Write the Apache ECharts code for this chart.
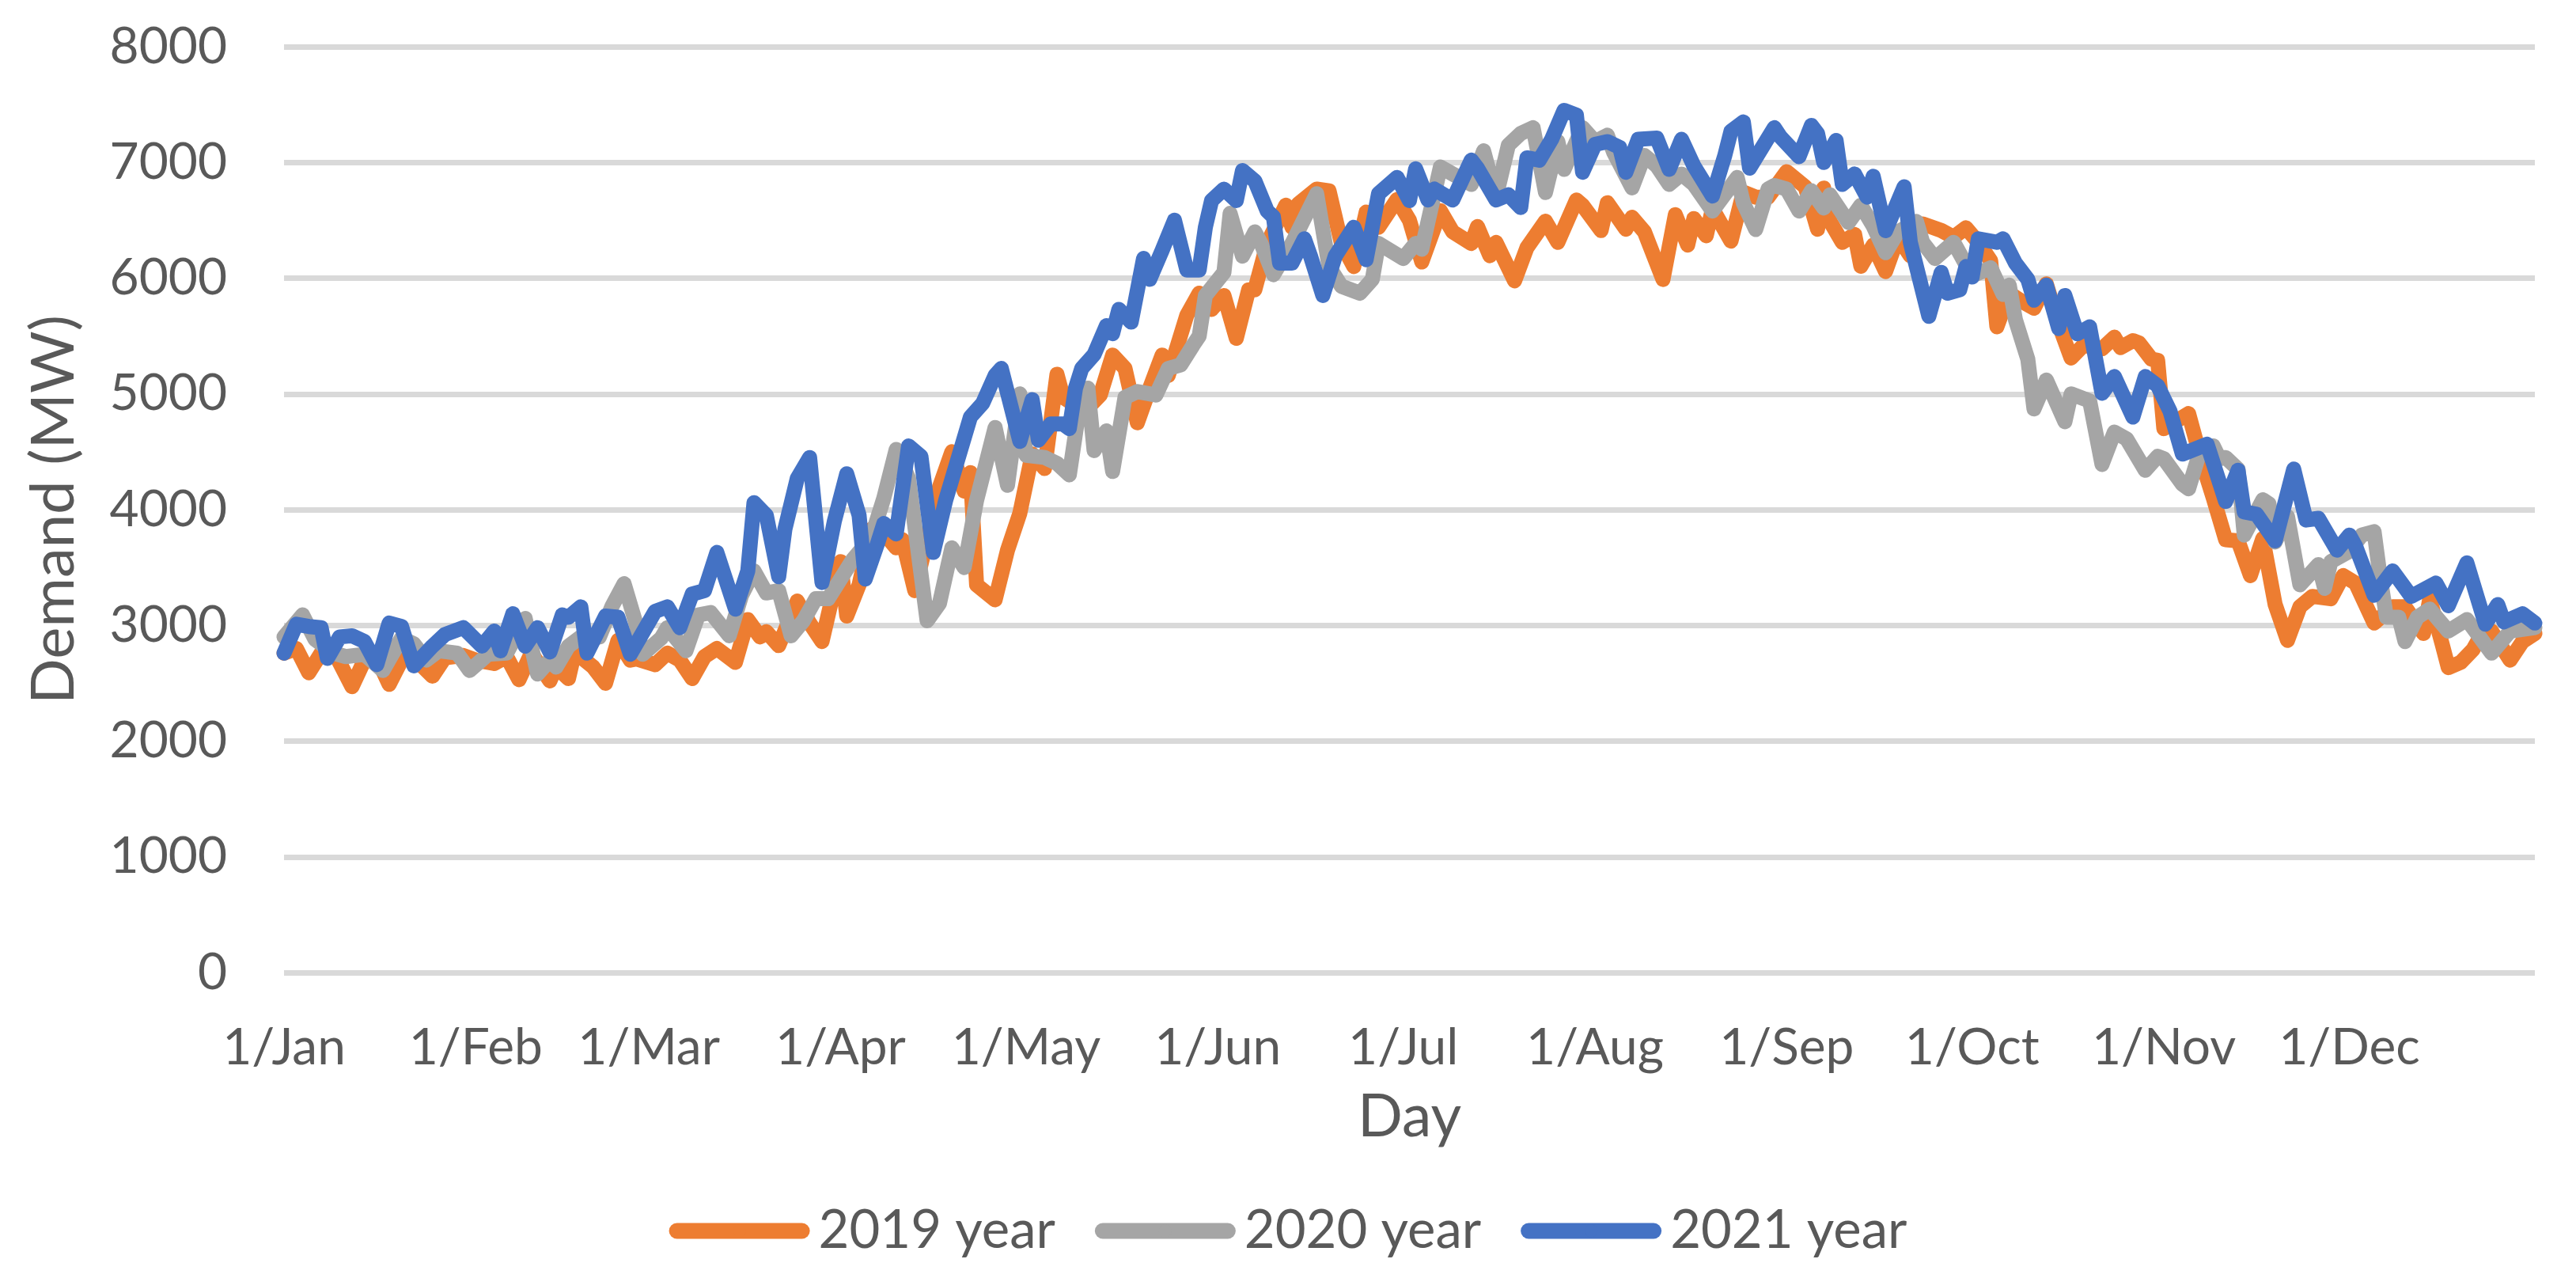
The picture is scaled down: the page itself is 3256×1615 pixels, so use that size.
<!DOCTYPE html>
<html>
<head>
<meta charset="utf-8">
<script src="https://cdn.jsdelivr.net/npm/echarts@6/dist/echarts.min.js"></script>
<style>
html,body{margin:0;padding:0;background:#ffffff;}
#chart{width:3256px;height:1615px;}
</style>
</head>
<body>
<div id="chart"></div>
<script>
// ---- categories / ticks ----
const monthNames = ['Jan','Feb','Mar','Apr','May','Jun','Jul','Aug','Sep','Oct','Nov','Dec'];
const monthDays = [31,28,31,30,31,30,31,31,30,31,30,31];
const yTicks = {min: 0, max: 8000, step: 1000};
const seriesNames = ['2019 year','2020 year','2021 year'];

// ---- series values: [day index (0 = 1/Jan), demand MW] ----
const demand2019 = [[0,2760],[2,2800],[4,2590],[6,2760],[8,2780],[11,2470],[13,2700],[15,2720],[17,2490],[19,2700],[21,2720],[24,2560],[26,2720],[29,2740],[31,2700],[34,2670],[36,2730],[38,2530],[40,2760],[43,2520],[44,2640],[46,2540],[47,2770],[50,2640],[52,2500],[54,2870],[56,2700],[57,2710],[60,2660],[62,2760],[64,2700],[66,2540],[68,2730],[70,2800],[73,2680],[75,3050],[77,2900],[78,2945],[80,2825],[83,3210],[85,3020],[87,2860],[90,3550],[91,3080],[93,3350],[95,3830],[96,3860],[99,3670],[100,3740],[102,3300],[106,4195],[108,4500],[110,4160],[111,4320],[112,3350],[115,3220],[117,3650],[119,3970],[121,4480],[123,4355],[125,5170],[126,4970],[128,4900],[130,4880],[132,4990],[134,5335],[136,5220],[138,4750],[140,5050],[142,5335],[143,5160],[146,5680],[148,5870],[150,5730],[152,5850],[154,5480],[156,5900],[157,5900],[159,6300],[162,6630],[163,6440],[164,6640],[167,6770],[169,6755],[171,6300],[173,6100],[175,6570],[177,6440],[180,6680],[182,6500],[184,6140],[187,6583],[189,6400],[192,6300],[193,6446],[195,6194],[196,6309],[199,5977],[201,6263],[204,6492],[206,6309],[209,6675],[210,6629],[213,6412],[214,6652],[217,6423],[218,6526],[220,6400],[223,5989],[225,6549],[227,6286],[228,6515],[230,6366],[231,6600],[234,6320],[236,6744],[238,6700],[240,6700],[243,6920],[246,6789],[248,6423],[249,6778],[250,6492],[252,6309],[254,6378],[255,6103],[257,6286],[259,6057],[261,6355],[263,6194],[265,6469],[268,6412],[270,6355],[272,6435],[274,6309],[276,6150],[277,5580],[279,5870],[281,5800],[283,5740],[285,5950],[287,5600],[289,5310],[291,5420],[294,5390],[296,5490],[297,5400],[299,5460],[300,5440],[302,5300],[303,5290],[304,4700],[308,4830],[310,4440],[312,4100],[314,3740],[316,3730],[318,3430],[320,3750],[322,3180],[324,2870],[326,3160],[328,3250],[331,3230],[333,3430],[335,3365],[338,3020],[341,3160],[343,3160],[346,2930],[347,3230],[349,2840],[350,2635],[352,2680],[354,2790],[356,2980],[357,2950],[360,2700],[362,2860],[364,2930]];

const demand2020 = [[0,2900],[3,3090],[5,2880],[8,2760],[10,2730],[13,2750],[16,2610],[19,2890],[21,2840],[23,2700],[25,2780],[28,2760],[30,2610],[33,2750],[36,2760],[39,3060],[41,2580],[43,2700],[44,2640],[46,2820],[48,2900],[51,2900],[53,3160],[55,3360],[57,3000],[58,2750],[61,2890],[62,2980],[65,2780],[67,3090],[69,3110],[72,2910],[74,3260],[76,3470],[78,3280],[80,3300],[82,2910],[84,3040],[86,3230],[88,3230],[92,3570],[95,3760],[97,4100],[99,4520],[101,4270],[104,3040],[106,3190],[108,3670],[110,3500],[112,4080],[115,4710],[117,4210],[119,5000],[120,4470],[123,4450],[125,4400],[127,4300],[129,5020],[130,5050],[131,4510],[133,4680],[134,4330],[136,4970],[138,5020],[141,4990],[143,5220],[145,5250],[147,5420],[148,5500],[149,5850],[152,6050],[153,6560],[155,6190],[157,6400],[158,6300],[160,6030],[163,6300],[167,6730],[169,6100],[171,5930],[174,5870],[176,5990],[177,6300],[181,6170],[183,6300],[184,6250],[187,6960],[189,6900],[192,6810],[194,7100],[196,6700],[198,7150],[200,7250],[202,7300],[204,6740],[206,7180],[207,6940],[210,7300],[212,7180],[214,7235],[215,7090],[218,6780],[220,7060],[222,6970],[224,6810],[226,6900],[228,6810],[231,6580],[235,6870],[236,6650],[238,6420],[240,6770],[241,6800],[243,6770],[245,6580],[247,6755],[249,6606],[250,6720],[253,6480],[255,6630],[257,6450],[259,6220],[261,6400],[264,6490],[265,6310],[267,6170],[270,6310],[273,6020],[276,6090],[278,5860],[279,5940],[280,5640],[282,5300],[283,4870],[285,5120],[288,4760],[289,5000],[292,4940],[294,4390],[296,4670],[298,4610],[301,4340],[303,4460],[304,4440],[307,4220],[308,4180],[310,4530],[312,4550],[313,4440],[314,4450],[316,4350],[317,3780],[320,4085],[321,4050],[322,3720],[324,3940],[326,3350],[329,3525],[330,3320],[331,3550],[334,3640],[336,3780],[338,3810],[339,3410],[340,3070],[342,3070],[343,2860],[345,3070],[347,3140],[350,2950],[353,3050],[357,2760],[360,2950],[364,2980]];

const demand2021 = [[0,2760],[2,3010],[4,2990],[6,2980],[7,2715],[9,2900],[11,2910],[13,2860],[15,2660],[17,3020],[19,2990],[21,2650],[24,2820],[26,2920],[29,2980],[32,2820],[34,2950],[35,2780],[37,3100],[39,2820],[41,2980],[43,2770],[45,3090],[46,3070],[48,3160],[49,2760],[52,3080],[54,3070],[56,2750],[60,3120],[62,3160],[64,2980],[66,3270],[68,3300],[70,3630],[73,3140],[75,3470],[76,4060],[78,3950],[80,3420],[81,3830],[83,4270],[85,4450],[87,3370],[89,3900],[91,4310],[93,3950],[94,3400],[96,3710],[97,3880],[99,3790],[101,4550],[103,4460],[105,3630],[107,4080],[109,4440],[111,4800],[113,4920],[115,5160],[116,5220],[119,4590],[121,4950],[122,4600],[124,4740],[126,4740],[127,4700],[128,5050],[129,5220],[131,5340],[133,5590],[134,5520],[135,5730],[137,5620],[139,6170],[140,5990],[142,6240],[144,6500],[146,6070],[148,6070],[149,6440],[150,6670],[152,6770],[154,6670],[155,6930],[157,6840],[159,6580],[160,6530],[161,6130],[163,6130],[165,6340],[166,6190],[168,5850],[170,6190],[173,6440],[175,6160],[177,6730],[180,6870],[182,6670],[183,6945],[185,6675],[186,6770],[189,6675],[192,7020],[193,6950],[196,6675],[198,6720],[200,6610],[201,7040],[203,7020],[205,7200],[207,7450],[209,7410],[210,6915],[212,7155],[214,7180],[216,7130],[217,6915],[219,7200],[222,7210],[224,6940],[226,7200],[228,6970],[231,6710],[233,7060],[234,7270],[236,7350],[237,6950],[241,7300],[242,7220],[245,7050],[247,7320],[248,7250],[249,7000],[251,7190],[252,6810],[254,6900],[256,6700],[257,6880],[259,6410],[262,6790],[263,6310],[266,5670],[268,6050],[269,5870],[271,5900],[272,6100],[273,6010],[274,6340],[277,6310],[278,6340],[280,6130],[282,5990],[283,5810],[285,5940],[287,5565],[288,5850],[290,5520],[292,5580],[294,5005],[296,5150],[299,4800],[301,5150],[303,5070],[305,4850],[307,4480],[311,4565],[314,4070],[316,4340],[317,3980],[319,3960],[322,3730],[325,4350],[327,3910],[329,3925],[332,3650],[334,3780],[335,3685],[338,3260],[341,3470],[344,3250],[348,3365],[350,3170],[353,3540],[356,3010],[358,3180],[359,3030],[362,3100],[364,3020]];

// ---- build day categories ----
const categories = [];
const monthStarts = [];
monthNames.forEach(function (m, i) {
  monthStarts.push(categories.length);
  for (let d = 1; d <= monthDays[i]; d++) categories.push(d + '/' + m);
});

const FONT = 'Lato';
const TXT = '#595959';
const colors = ['#ED7D31', '#A5A5A5', '#4472C4'];

function lineSeries(name, data, color) {
  return {
    name: name, type: 'line', data: data,
    symbol: 'none', showSymbol: false, smooth: false,
    lineStyle: {width: 19, color: color, cap: 'round', join: 'round'},
    itemStyle: {color: color},
    emphasis: {disabled: true},
    animation: false
  };
}

const chart = echarts.init(document.getElementById('chart'), null, {renderer: 'canvas'});
chart.setOption({
  backgroundColor: '#ffffff',
  animation: false,
  color: colors,
  grid: {left: 359, right: 52, top: 59, bottom: 386, containLabel: false},
  xAxis: {
    type: 'category',
    data: categories,
    boundaryGap: false,
    name: 'Day',
    nameLocation: 'middle',
    nameGap: 145,
    nameTextStyle: {fontFamily: FONT, fontSize: 75, color: TXT, lineHeight: 75},
    axisLine: {show: false},
    axisTick: {show: false},
    splitLine: {show: false},
    axisLabel: {
      interval: function (index) { return monthStarts.indexOf(index) >= 0; },
      fontFamily: FONT, fontSize: 64, color: TXT, margin: 63, lineHeight: 64
    }
  },
  yAxis: {
    type: 'value',
    min: yTicks.min, max: yTicks.max, interval: yTicks.step,
    name: 'Demand (MW)',
    nameLocation: 'middle',
    nameRotate: 90,
    nameGap: 253,
    nameTextStyle: {fontFamily: FONT, fontSize: 76, color: TXT, lineHeight: 76},
    axisLine: {show: false},
    axisTick: {show: false},
    axisLabel: {
      fontFamily: FONT, fontSize: 64, color: TXT, margin: 72,
      formatter: function (v) { return String(v); }
    },
    splitLine: {show: true, lineStyle: {color: '#D9D9D9', width: 7}}
  },
  legend: {
    data: seriesNames,
    left: 'center',
    top: 1517,
    itemWidth: 158,
    itemHeight: 20,
    itemGap: 50,
    lineStyle: {width: 20, cap: 'round'},
    textStyle: {fontFamily: FONT, fontSize: 67, color: TXT, lineHeight: 67, padding: [0, 0, 0, 16]}
  },
  series: [
    lineSeries(seriesNames[0], demand2019, colors[0]),
    lineSeries(seriesNames[1], demand2020, colors[1]),
    lineSeries(seriesNames[2], demand2021, colors[2])
  ]
});
</script>
</body>
</html>
